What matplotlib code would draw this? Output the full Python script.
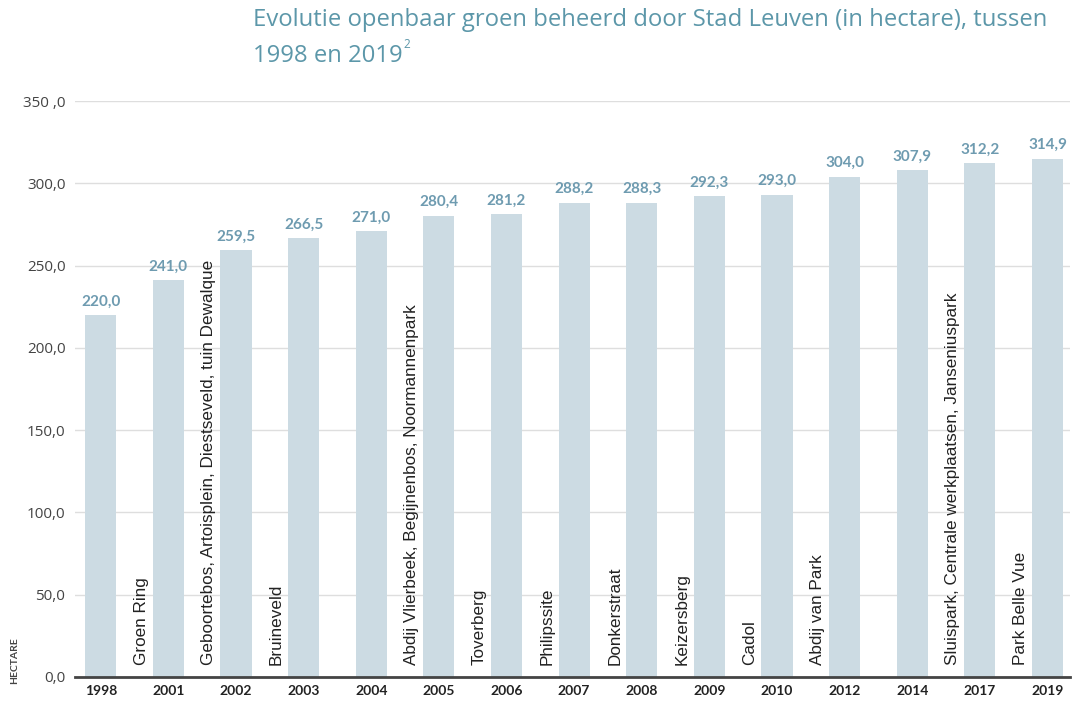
import matplotlib.pyplot as plt
import numpy as np

years = ['1998', '2001', '2002', '2003', '2004', '2005', '2006', '2007',
         '2008', '2009', '2010', '2012', '2014', '2017', '2019']
hectare = [220.0, 241.0, 259.5, 266.5, 271.0, 280.4, 281.2, 288.2,
           288.3, 292.3, 293.0, 304.0, 307.9, 312.2, 314.9]
nieuw = ['', 'Groen Ring', 'Geboortebos, Artoisplein, Diestseveld, tuin Dewalque',
         'Bruineveld', '', 'Abdij Vlierbeek, Begijnenbos, Noormannenpark',
         'Toverberg', 'Philipssite', 'Donkerstraat', 'Keizersberg', 'Cadol',
         'Abdij van Park', '', 'Sluispark, Centrale werkplaatsen, Janseniuspark',
         'Park Belle Vue']
yticks = [0, 50, 100, 150, 200, 250, 300, 350]
ytick_labels = ['0,0', '50,0', '100,0', '150,0', '200,0', '250,0', '300,0', '350 ,0']

bar_color = '#ccdbe3'
value_color = '#6e9bb0'
title_color = '#5c97a9'

fig = plt.figure(figsize=(10.73, 7.04), dpi=100)
ax = fig.add_axes([0.07, 0.0384, 0.927, 0.8181])

x = np.arange(len(years))
bars = ax.bar(x, hectare, width=0.46, color=bar_color, zorder=2)

for xi, v in zip(x, hectare):
    ax.text(xi, v + 4, f'{v:.1f}'.replace('.', ','), ha='center', va='bottom',
            fontsize=11, fontweight='bold', color=value_color,
            family='Lato', clip_on=False)

# names of the new parks, written upright in the gap left of each bar
for xi, name in zip(x, nieuw):
    if name:
        ax.text(xi - 0.4, 7, name, rotation=90, ha='center', va='bottom',
                fontsize=12.3, color='#222222', family='Liberation Sans', zorder=3)

ax.set_xlim(-0.38, len(years) - 0.67)
ax.set_ylim(0, 350)
ax.set_yticks(yticks)
ax.set_yticklabels(ytick_labels, family='Open Sans', fontsize=11, color='#444444')
ax.set_xticks(x)
ax.set_xticklabels(years, family='Lato', fontsize=10, fontweight='bold', color='#222222')
ax.tick_params(axis='both', length=0, pad=6)
ax.tick_params(axis='y', pad=7)
ax.grid(axis='y', color='#dedede', linewidth=1, zorder=0)

for side in ['top', 'right', 'left']:
    ax.spines[side].set_visible(False)
ax.spines['bottom'].set_color('#444444')
ax.spines['bottom'].set_linewidth(2)
ax.spines['bottom'].set_zorder(4)

fig.text(0.014, 0.062, 'HECTARE', rotation=90, ha='center', va='center',
         fontsize=7.5, fontweight='bold', color='#444444', family='Lato')

fig.text(0.236, 0.971, 'Evolutie openbaar groen beheerd door Stad Leuven (in hectare), tussen',
         ha='left', va='center', fontsize=17.2, color=title_color, family='Open Sans')
t2 = fig.text(0.236, 0.921, '1998 en 2019', ha='left', va='center',
              fontsize=17.2, color=title_color, family='Open Sans')
fig.canvas.draw()
bb = t2.get_window_extent().transformed(fig.transFigure.inverted())
fig.text(bb.x1 + 0.001, 0.937, '2', ha='left', va='center',
         fontsize=8.5, color=title_color, family='Open Sans')

fig.savefig('out.png', dpi=100)
